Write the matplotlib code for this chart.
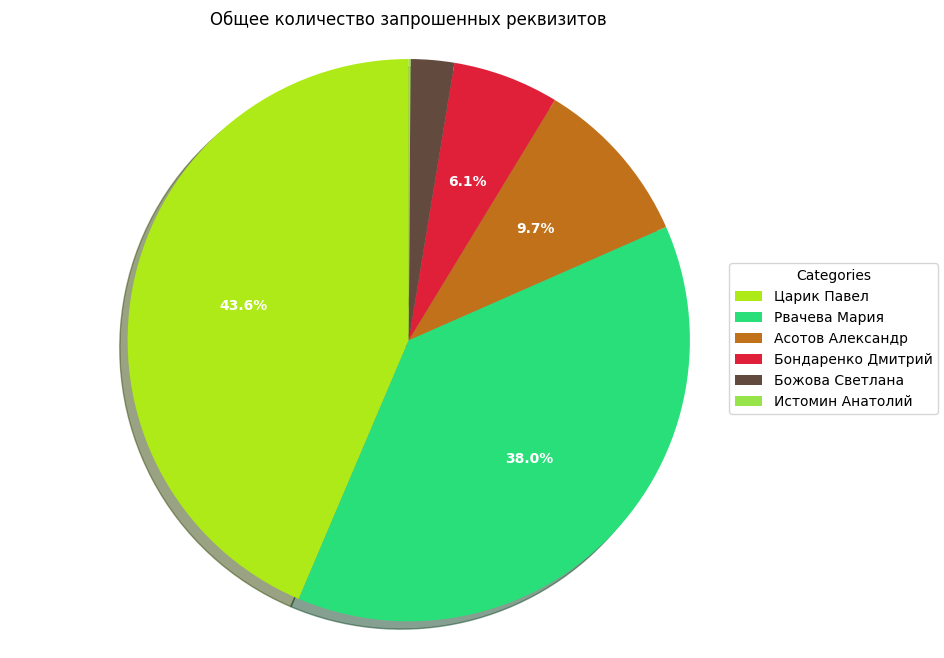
import matplotlib
matplotlib.use("Agg")
import matplotlib.pyplot as plt

labels = ["Царик Павел", "Рвачева Мария", "Асотов Александр", "Бондаренко Дмитрий", "Божова Светлана", "Истомин Анатолий"]
values = [436, 380, 97, 61, 25, 1]
colors = ["#aeea18", "#29df7a", "#c07119", "#e01f38", "#634a3e", "#97e34a"]

fig = plt.figure(figsize=(9.44, 6.58), dpi=100)
ax = fig.add_axes([0.018, 0.013, 0.83, 0.94])
wedges, texts, autotexts = ax.pie(values, colors=colors, startangle=90, shadow=True,
                                  autopct=lambda p: f"{p:.1f}%" if p >= 3 else "",
                                  textprops=dict(color="white", fontweight="bold"))
ax.axis("equal")
ax.set_title("Общее количество запрошенных реквизитов", pad=4)
fig.legend(wedges, labels, title="Categories", loc="center left", bbox_to_anchor=(0.765, 0.485))
fig.savefig("out.png", dpi=100)
